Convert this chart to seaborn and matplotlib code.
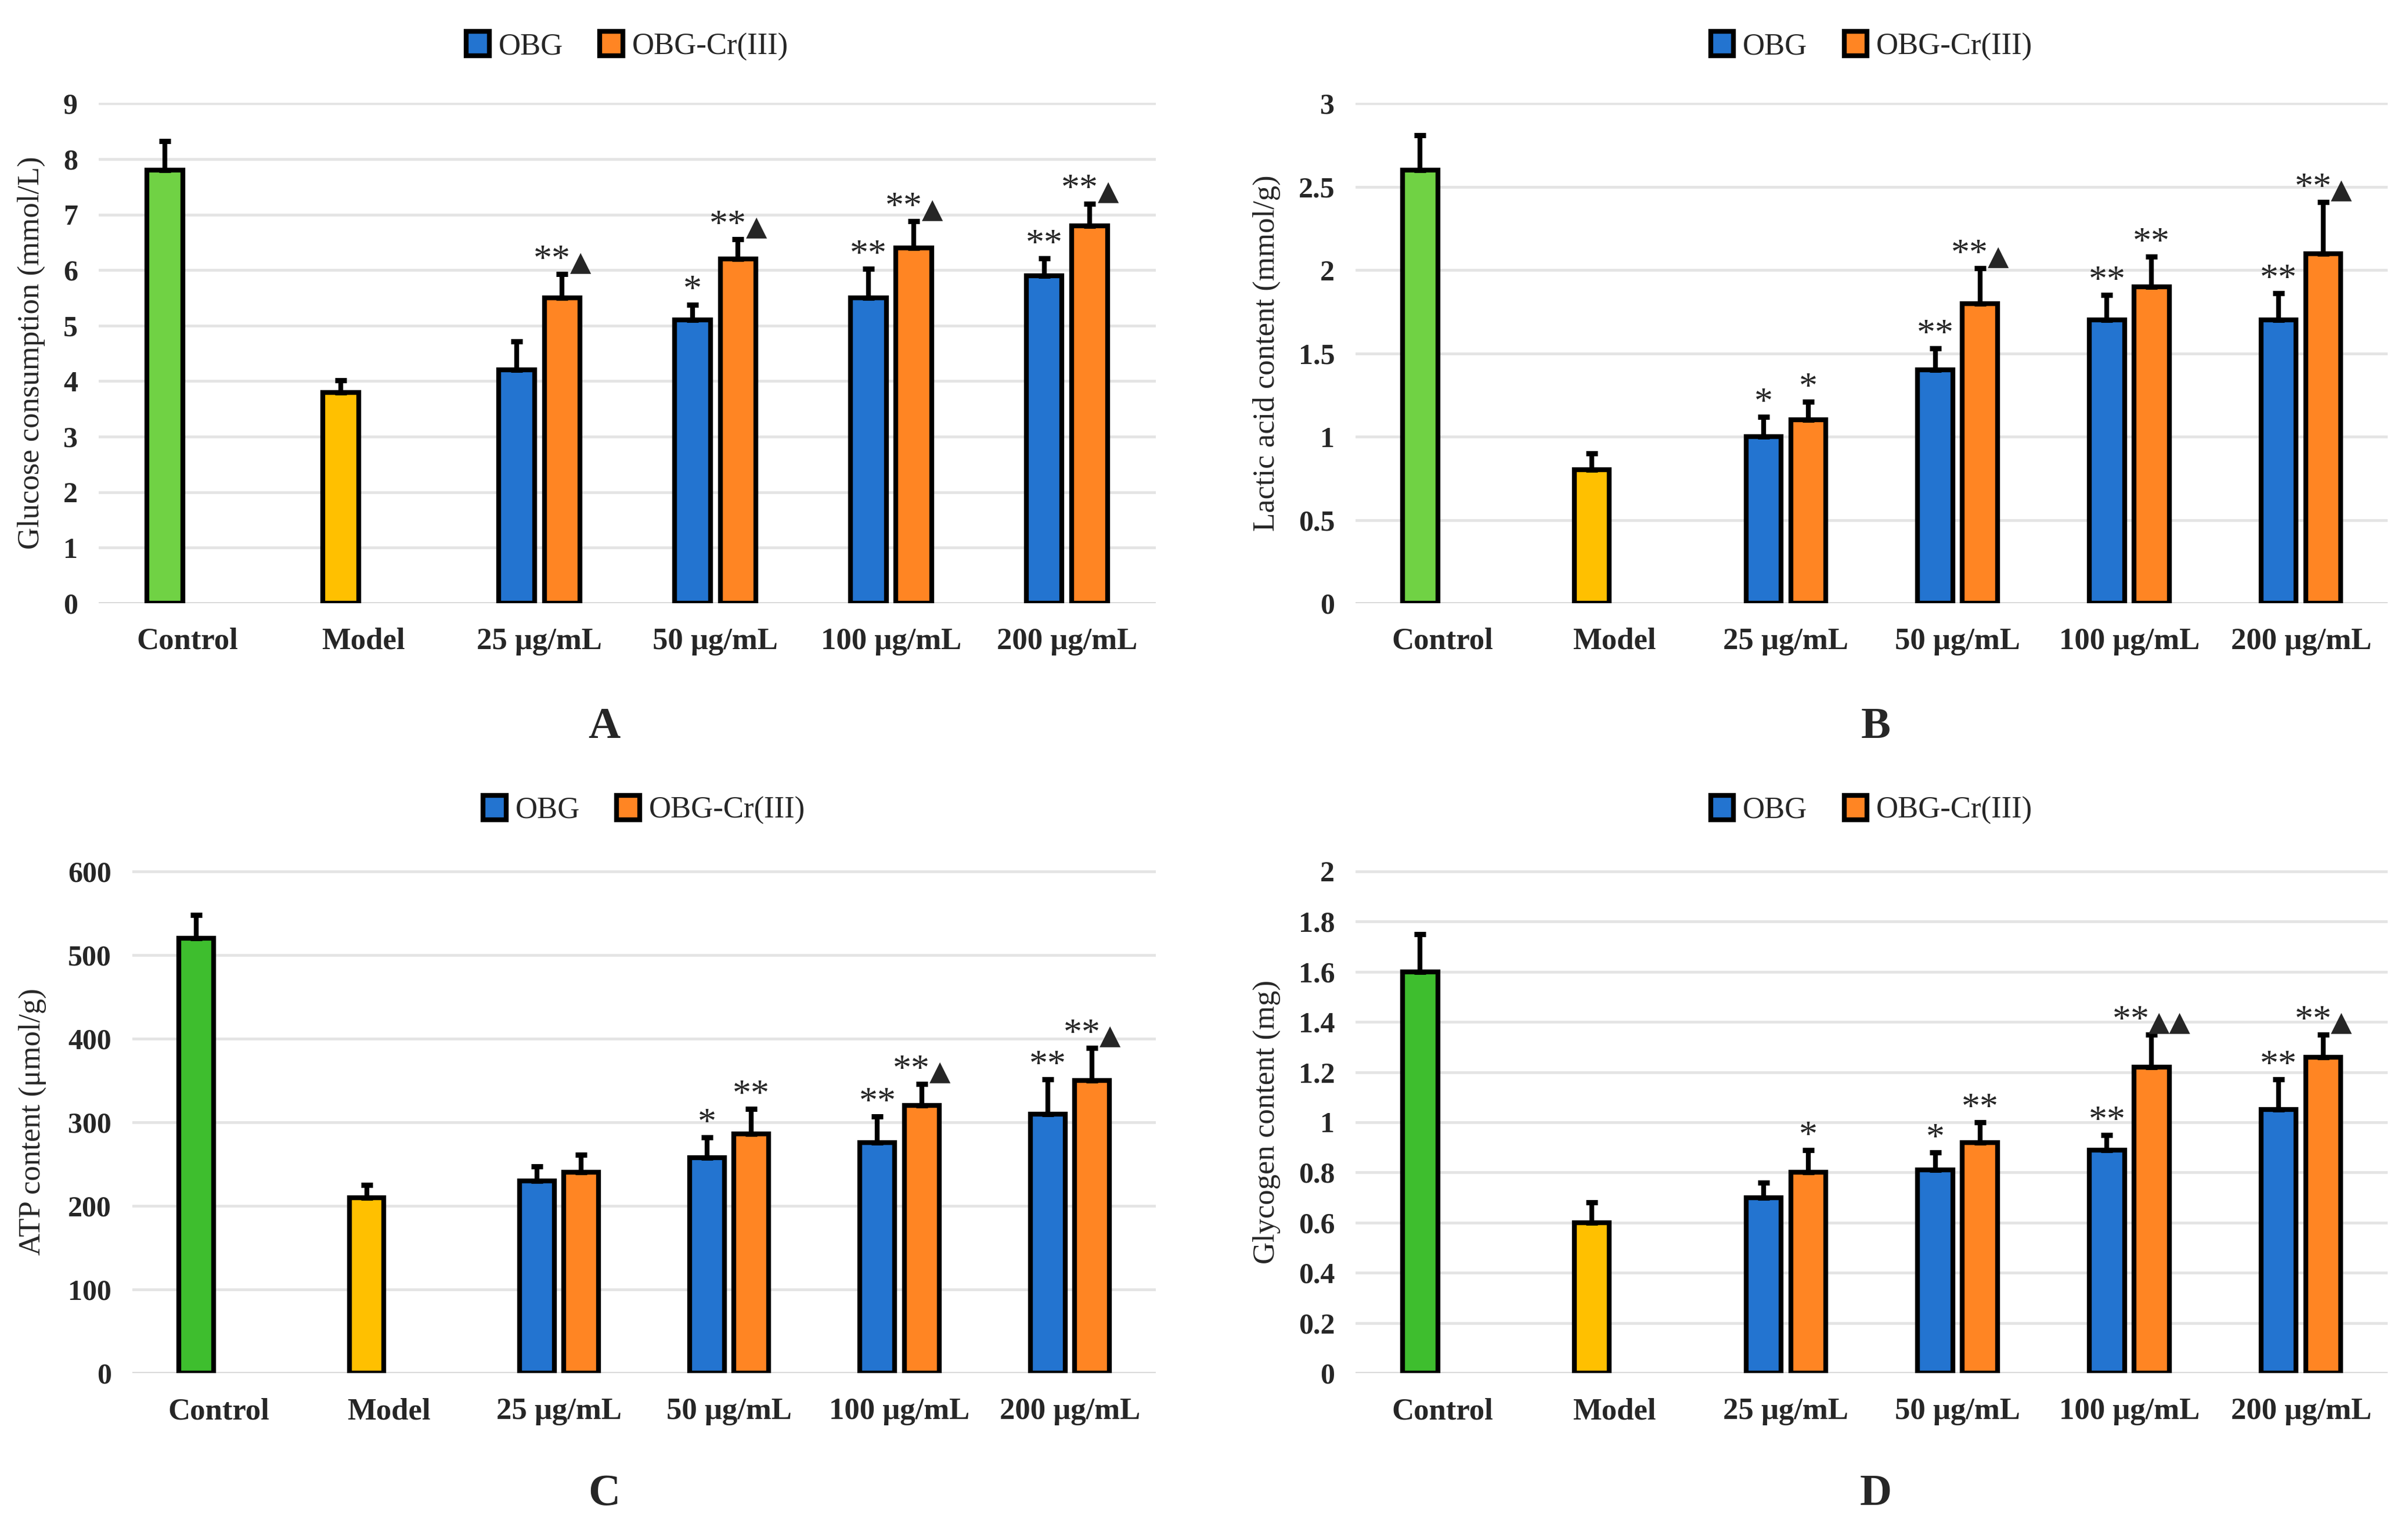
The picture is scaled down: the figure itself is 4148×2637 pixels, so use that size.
import matplotlib
matplotlib.use("Agg")
import matplotlib.pyplot as plt
import matplotlib.patches as mpatches
from matplotlib.offsetbox import TextArea, HPacker, AnnotationBbox
import seaborn as sns
import numpy as np
import pandas as pd

groups = ["Control", "Model", "25 μg/mL", "50 μg/mL", "100 μg/mL", "200 μg/mL"]
series = ["OBG", "OBG-Cr(III)"]

# A - glucose consumption
obg_A = [7.8, 3.8, 4.2, 5.1, 5.5, 5.9]
obg_err_A = [0.52, 0.22, 0.52, 0.28, 0.52, 0.31]
cr_A = [5.5, 6.2, 6.4, 6.8]
cr_err_A = [0.43, 0.36, 0.48, 0.40]
obg_sig_A = ["", "", "", "*", "**", "**"]
cr_sig_A = ["**▲", "**▲", "**▲", "**▲"]

# B - lactic acid
obg_B = [2.6, 0.8, 1.0, 1.4, 1.7, 1.7]
obg_err_B = [0.21, 0.10, 0.12, 0.13, 0.15, 0.16]
cr_B = [1.1, 1.8, 1.9, 2.1]
cr_err_B = [0.11, 0.21, 0.18, 0.31]
obg_sig_B = ["", "", "*", "**", "**", "**"]
cr_sig_B = ["*", "**▲", "**", "**▲"]

# C - ATP
obg_C = [520, 210, 230, 258, 276, 310]
obg_err_C = [28, 15, 17, 24, 31, 41]
cr_C = [240, 286, 320, 350]
cr_err_C = [21, 30, 26, 39]
obg_sig_C = ["", "", "", "*", "**", "**"]
cr_sig_C = ["", "**", "**▲", "**▲"]

# D - glycogen
obg_D = [1.6, 0.6, 0.7, 0.81, 0.89, 1.05]
obg_err_D = [0.15, 0.08, 0.06, 0.07, 0.06, 0.12]
cr_D = [0.8, 0.92, 1.22, 1.26]
cr_err_D = [0.09, 0.08, 0.13, 0.09]
obg_sig_D = ["", "", "", "*", "**", "**"]
cr_sig_D = ["*", "**", "**▲▲", "**▲"]

blue = "#2374D0"
orange = "#FF8523"
yellow = "#FFC000"

sns.set_style("white")
plt.rcParams["font.family"] = ["Liberation Serif", "DejaVu Serif"]

fig = plt.figure(figsize=(41.48, 26.37), dpi=100)


def mark(ax, x, y, s):
    # stars in serif, triangles in DejaVu, packed side by side and centred
    stars = s.rstrip("▲")
    tris = s[len(stars):]
    parts = []
    if stars:
        parts.append(TextArea(stars, textprops=dict(fontsize=46,
                                                    family="Liberation Serif")))
    if tris:
        parts.append(TextArea(tris, textprops=dict(fontsize=34,
                                                   family="DejaVu Sans")))
    box = HPacker(children=parts, align="baseline", pad=0, sep=-1)
    ab = AnnotationBbox(box, (x, y), xybox=(0, -5), xycoords="data",
                        boxcoords="offset points", box_alignment=(0.5, 0),
                        frameon=False, pad=0, zorder=4)
    ax.add_artist(ab)


def panel(rect, obg, obg_err, cr, cr_err, obg_sig, cr_sig, ylab, ymax, step,
          green, labx, leg_y):
    ax = fig.add_axes(rect)
    df = pd.DataFrame({
        "group": groups + groups[2:],
        "series": [series[0]] * 6 + [series[1]] * 4,
        "value": obg + cr,
    })
    sns.barplot(data=df, x="group", y="value", hue="series", order=groups,
                hue_order=series, palette=[blue, orange], saturation=1,
                width=0.52, gap=0.215, errorbar=None, edgecolor="black",
                linewidth=6, legend=False, ax=ax, zorder=2)
    ax.containers[0][0].set_facecolor(green)
    ax.containers[0][1].set_facecolor(yellow)

    for cont, errs, sigs in [(ax.containers[0], obg_err, obg_sig),
                             (ax.containers[1], cr_err, cr_sig)]:
        for bar, e, s in zip(cont, errs, sigs):
            xc = bar.get_x() + bar.get_width() / 2
            h = bar.get_height()
            ax.errorbar(xc, h, yerr=[[0], [e]], fmt="none", ecolor="black",
                        elinewidth=6, capsize=7, capthick=6.5, zorder=3)
            if s:
                mark(ax, xc, h + e, s)

    ax.set_ylim(0, ymax * 1.002)
    ticks = np.arange(0, ymax + step / 2, step)
    ax.set_yticks(ticks)
    ax.set_yticklabels([f"{round(t, 2):g}" for t in ticks],
                       fontsize=36, fontweight="bold")
    ax.set_xticks(range(len(groups)))
    ax.set_xticklabels(groups, fontsize=38, fontweight="bold")
    ax.tick_params(axis="y", length=0, pad=26)
    ax.tick_params(axis="x", length=0, pad=30)
    ax.set_xlabel("")
    ax.set_ylabel(ylab, fontsize=38, va="center")
    ax.yaxis.set_label_coords(labx, 0.5)
    sns.despine(ax=ax, left=True, bottom=True)
    ax.yaxis.grid(True, color="#E4E4E4", linewidth=3.4)
    ax.axhline(0, color="#D9D9D9", linewidth=3.6, zorder=1)
    ax.set_axisbelow(True)

    handles = [mpatches.Patch(facecolor=blue, edgecolor="black", linewidth=6,
                              label=series[0]),
               mpatches.Patch(facecolor=orange, edgecolor="black", linewidth=6,
                              label=series[1])]
    ax.legend(handles=handles, loc="center", bbox_to_anchor=(0.5, leg_y),
              ncol=2, frameon=False, fontsize=38, handlelength=0.75,
              handleheight=0.85, handletextpad=0.3, columnspacing=1.2)
    return ax


panel([0.041, 0.606, 0.439, 0.327], obg_A, obg_err_A, cr_A, cr_err_A,
      obg_sig_A, cr_sig_A, "Glucose consumption (mmol/L)", 9, 1,
      "#70D244", -0.0637, 1.113)
panel([0.563, 0.606, 0.4286, 0.327], obg_B, obg_err_B, cr_B, cr_err_B,
      obg_sig_B, cr_sig_B, "Lactic acid content (mmol/g)", 3, 0.5,
      "#70D244", -0.0866, 1.113)
panel([0.055, 0.103, 0.425, 0.3286], obg_C, obg_err_C, cr_C, cr_err_C,
      obg_sig_C, cr_sig_C, "ATP content (μmol/g)", 600, 100,
      "#3EBE2E", -0.0976, 1.12)
panel([0.563, 0.103, 0.4286, 0.3286], obg_D, obg_err_D, cr_D, cr_err_D,
      obg_sig_D, cr_sig_D, "Glycogen content (mg)", 2, 0.2,
      "#3EBE2E", -0.0866, 1.12)

for x, y, t in [(0.251, 0.525, "A"), (0.779, 0.525, "B"),
                (0.251, 0.024, "C"), (0.779, 0.024, "D")]:
    fig.text(x, y, t, ha="center", va="center", fontsize=55,
             fontweight="bold")

fig.savefig("out.png", dpi=100)
